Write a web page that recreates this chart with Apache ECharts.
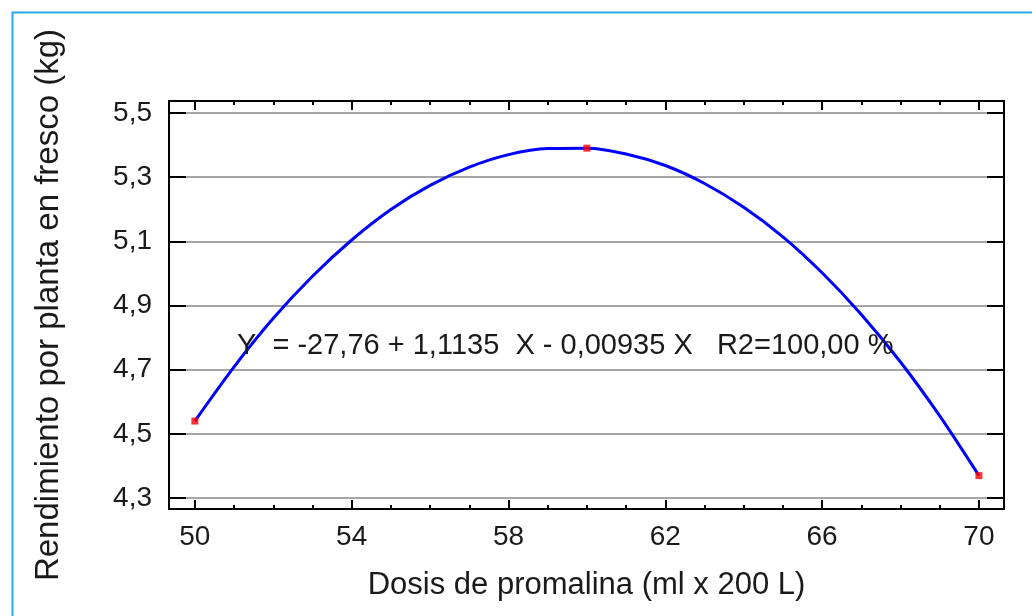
<!DOCTYPE html>
<html>
<head>
<meta charset="utf-8">
<script src="https://cdn.jsdelivr.net/npm/echarts@6/dist/echarts.min.js"></script>
<style>
html,body{margin:0;padding:0;background:#fff;}
#chart{width:1032px;height:616px;}
</style>
</head>
<body>
<div id="chart"></div>
<script>
// Observed data points
const obsX = [50, 60, 70];
const obsY = [4.54, 5.39, 4.37];
// Fitted curve at each dose
const curveX = [50,51,52,53,54,55,56,57,58,59,60,61,62,63,64,65,66,67,68,69,70];
const curveY = [4.540,4.709,4.860,4.991,5.104,5.199,5.274,5.331,5.370,5.389,5.390,5.372,5.336,5.280,5.206,5.114,5.002,4.872,4.724,4.556,4.370];
// Tick labels
const xMajorTicks = [50, 54, 58, 62, 66, 70];
const xMinorTicks = [50,51,52,53,54,55,56,57,58,59,60,61,62,63,64,65,66,67,68,69,70];
const yTicks = [4.3, 4.5, 4.7, 4.9, 5.1, 5.3, 5.5];
const equationText = 'Y  = -27,76 + 1,1135  X - 0,00935 X   R2=100,00 %';
const xTitle = 'Dosis de promalina (ml x 200 L)';
const yTitle = 'Rendimiento por planta en fresco (kg)';

const fmt = v => String(v).replace('.', ',');
const FONT = '"Liberation Sans", Arial, sans-serif';
const TXT = '#1a1a1a';

const X_MIN = 49.34, X_MAX = 70.64;
const Y_MIN = 4.266, Y_MAX = 5.537;

function xAx(opts) {
  return Object.assign({
    type: 'value', min: X_MIN, max: X_MAX, gridIndex: 0,
    axisLine: {show: true, onZero: false, lineStyle: {color: '#000', width: 2}},
    axisLabel: {show: false},
    splitLine: {show: false},
  }, opts);
}
function yAx(opts) {
  return Object.assign({
    type: 'value', min: Y_MIN, max: Y_MAX, gridIndex: 0,
    axisLine: {show: true, onZero: false, lineStyle: {color: '#000', width: 2}},
    axisLabel: {show: false},
    splitLine: {show: false},
  }, opts);
}

const chart = echarts.init(document.getElementById('chart'), null, {renderer: 'canvas'});
chart.setOption({
  backgroundColor: '#fff',
  animation: false,
  textStyle: {fontFamily: FONT},
  grid: {left: 169, top: 101, right: 28, bottom: 107, containLabel: false},
  xAxis: [
    xAx({position: 'bottom',
      axisTick: {inside: true, length: 9, customValues: xMajorTicks, lineStyle: {color: '#000', width: 2}},
      axisLabel: {show: true, customValues: xMajorTicks, formatter: v => fmt(v), fontSize: 28, color: TXT, fontFamily: FONT, margin: 14},
      name: xTitle, nameLocation: 'middle', nameGap: 61,
      nameTextStyle: {fontSize: 31, color: TXT, fontFamily: FONT}
    }),
    xAx({position: 'bottom',
      axisTick: {inside: true, length: 4, customValues: xMinorTicks, lineStyle: {color: '#000', width: 2}}}),
    xAx({position: 'top',
      axisTick: {inside: true, length: 9, customValues: xMajorTicks, lineStyle: {color: '#000', width: 2}}}),
    xAx({position: 'top',
      axisTick: {inside: true, length: 4, customValues: xMinorTicks, lineStyle: {color: '#000', width: 2}}})
  ],
  yAxis: [
    yAx({position: 'left',
      axisTick: {inside: true, length: 17, customValues: yTicks, lineStyle: {color: '#000', width: 2}},
      axisLabel: {show: true, customValues: yTicks, formatter: v => fmt(v), fontSize: 28, color: TXT, fontFamily: FONT, margin: 17},
      splitLine: {show: true, lineStyle: {color: '#a6a6a6', width: 2}},
      name: yTitle, nameLocation: 'middle', nameGap: 104, nameRotate: 90,
      nameTextStyle: {fontSize: 33, color: TXT, fontFamily: FONT}
    }),
    yAx({position: 'right',
      axisTick: {inside: true, length: 17, customValues: yTicks, lineStyle: {color: '#000', width: 2}}})
  ],
  series: [
    {
      type: 'line', xAxisIndex: 0, yAxisIndex: 0,
      data: curveX.map((x, i) => [x, curveY[i]]),
      smooth: 0.3, showSymbol: false, symbol: 'none',
      lineStyle: {color: '#0000ff', width: 3},
      z: 3
    },
    {
      type: 'scatter', xAxisIndex: 0, yAxisIndex: 0,
      data: obsX.map((x, i) => [x, obsY[i]]),
      symbol: 'rect', symbolSize: 7,
      itemStyle: {color: '#ff0000'},
      z: 4
    }
  ],
  graphic: [
    {type: 'rect', left: 10, top: 10, z: -1, silent: true,
      shape: {width: 1060, height: 700},
      style: {fill: 'none', stroke: '#2fa8e6', lineWidth: 2}},
    {type: 'text', left: 237, top: 331, z: 10,
      style: {text: equationText, font: '29px ' + FONT, fill: TXT}}
  ]
});
</script>
</body>
</html>
